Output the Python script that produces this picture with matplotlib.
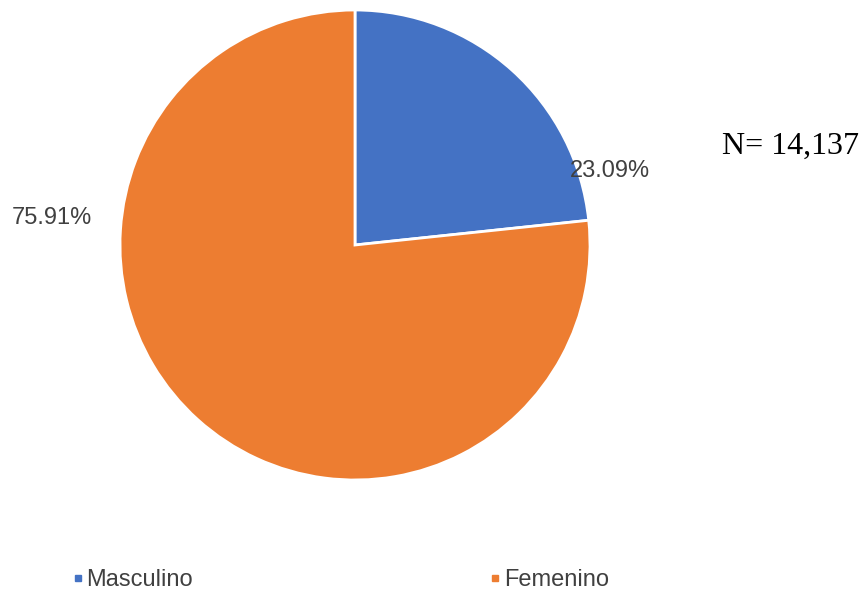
import matplotlib.pyplot as plt
from matplotlib.lines import Line2D

# Distribución por sexo
categorias = ['Masculino', 'Femenino']
porcentajes = [23.09, 75.91]
colores = ['#4472C4', '#ED7D31']
total_n = '14,137'

fig = plt.figure(figsize=(8.61, 5.92), dpi=100)
W, H = 861, 592

# ejes colocados en pixeles: centro (355, 245), radio 235
ax = fig.add_axes([120 / W, (H - 480) / H, 470 / W, 470 / H])
wedges, _ = ax.pie(porcentajes, colors=colores, startangle=90, counterclock=False,
                   wedgeprops=dict(edgecolor='white', linewidth=2))
ax.set_xlim(-1, 1)
ax.set_ylim(-1, 1)
ax.set_aspect('equal')

# etiquetas de porcentaje
pos_etiquetas = [(610, 171), (52, 218)]
for val, (px, py) in zip(porcentajes, pos_etiquetas):
    fig.text(px / W, 1 - py / H, f'{val:.2f}%', ha='center', va='center',
             fontsize=17, color='#404040', family='Liberation Sans')

fig.text(790 / W, 1 - 146 / H, f'N= {total_n}', ha='center', va='center',
         fontsize=23, color='black', family='Liberation Serif')

# leyenda
handles = [Line2D([], [], marker='s', linestyle='none', markersize=5,
                  markerfacecolor=c, markeredgecolor=c) for c in colores]
fig.legend(handles, categorias, loc='center left', bbox_to_anchor=(50 / W, 1 - 580 / H),
           ncol=2, frameon=False, columnspacing=12.5, handletextpad=0.05, handlelength=0.6,
           prop={'family': 'Liberation Sans', 'size': 17}, labelcolor='#404040')

fig.savefig('out.png', dpi=100)
